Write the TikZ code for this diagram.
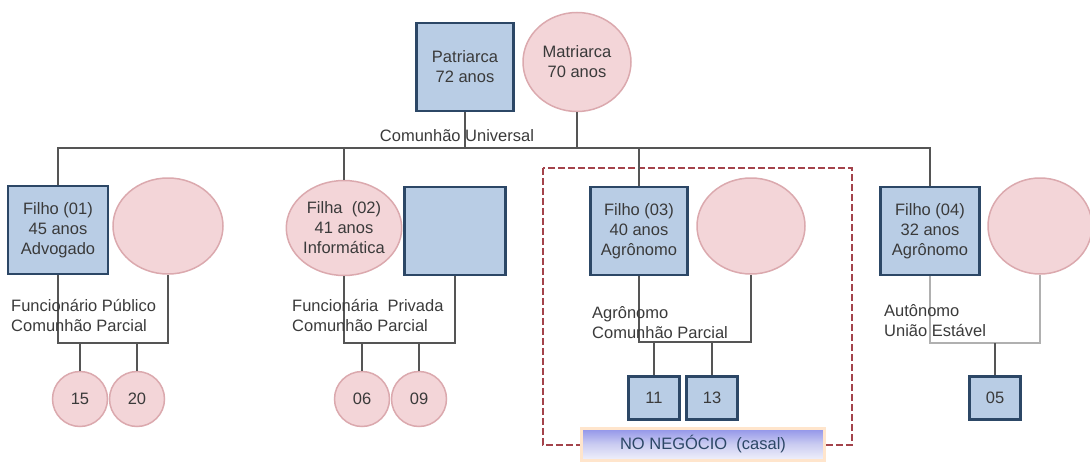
\documentclass[tikz,border=0pt]{standalone}
\usepackage{fontspec}
\setmainfont{Liberation Sans}
\usepackage{tikz}
\usetikzlibrary{shapes.geometric}
\definecolor{azul}{HTML}{B9CDE5}
\definecolor{azulborda}{HTML}{2C4766}
\definecolor{rosa}{HTML}{F3D5D8}
\definecolor{rosaborda}{HTML}{DBA9AE}
\definecolor{linha}{HTML}{555555}
\definecolor{linhaclara}{HTML}{B0B0B0}
\definecolor{texto}{HTML}{3A3A3A}
\definecolor{tracejado}{HTML}{A3434B}
\definecolor{faixa}{HTML}{9FA2E6}
\tikzset{
  homem/.style={draw=azulborda, fill=azul, line width=2.5pt, minimum width=97pt, minimum height=88pt, inner sep=0pt, align=center, text=texto},
  mulher/.style={ellipse, draw=rosaborda, fill=rosa, line width=1.5pt, minimum width=108pt, minimum height=96pt, inner sep=0pt, align=center, text=texto},
  netoh/.style={draw=azulborda, fill=azul, line width=2.5pt, minimum width=51pt, minimum height=43pt, inner sep=0pt, text=texto},
  netom/.style={circle, draw=rosaborda, fill=rosa, line width=1.5pt, minimum size=55pt, inner sep=0pt, text=texto},
  rotulo/.style={anchor=west, align=left, text=texto, inner sep=0pt},
  liga/.style={draw=linha, line width=1.5pt},
}
\begin{document}
\begin{tikzpicture}[x=1pt,y=-1pt,font=\fontsize{16.5}{20}\selectfont]
\useasboundingbox (0,0) rectangle (1090,463);

\draw[tracejado, line width=2.5pt, dash pattern=on 7pt off 3pt] (543,168) rectangle (852,445);

\node[homem] (pat) at (465,67) {Patriarca\\72 anos};
\node[mulher, minimum height=99pt] (mat) at (577,62) {Matriarca\\70 anos};
\node[text=texto] (casamento) at (457,136) {Comunhão Universal};

\node[homem, minimum width=100pt] (f1) at (58,230) {Filho (01)\\45 anos\\Advogado};
\node[mulher, minimum width=110pt] (f1e) at (168,226) {};
\node[mulher, minimum width=106pt, minimum height=95pt] (f2) at (344,228) {Filha \ (02)\\41 anos\\Informática};
\node[homem, minimum width=101pt] (f2e) at (455,231) {};
\node[homem] (f3) at (639,231) {Filho (03)\\40 anos\\Agrônomo};
\node[mulher] (f3e) at (751,226) {};
\node[homem, minimum width=99pt] (f4) at (930,231) {Filho (04)\\32 anos\\Agrônomo};
\node[mulher, minimum width=104pt] (f4e) at (1040,226) {};

\coordinate (u0) at (58,148);
\coordinate (u1) at (930,148);
\draw[liga] (pat.south) -- (pat.south |- u0);
\draw[liga] (mat.south) -- (mat.south |- u0);
\draw[liga] (f1.north) -- (u0) -- (u1) -- (f4.north);
\draw[liga] (f2.north) -- (f2.north |- u0);
\draw[liga] (f3.north) -- (f3.north |- u0);

\coordinate (c1) at (0,343);
\coordinate (c3) at (0,342);
\draw[liga] (f1.south) -- (f1.south |- c1) -- (f1e.south |- c1) -- (f1e.south);
\draw[liga] (f2.south) -- (f2.south |- c1) -- (f2e.south |- c1) -- (f2e.south);
\draw[liga] (f3.south) -- (f3.south |- c3) -- (f3e.south |- c3) -- (f3e.south);
\draw[liga, draw=linhaclara] (f4.south) -- (f4.south |- c1) -- (f4e.south |- c1) -- (f4e.south);

\node[netom] (n15) at (80,399) {15};
\node[netom] (n20) at (137,399) {20};
\node[netom] (n06) at (362,399) {06};
\node[netom] (n09) at (419,399) {09};
\node[netoh] (n11) at (654,398) {11};
\node[netoh] (n13) at (712,398) {13};
\node[netoh] (n05) at (995,398) {05};

\draw[liga] (n15.north) -- (n15.north |- c1);
\draw[liga] (n20.north) -- (n20.north |- c1);
\draw[liga] (n06.north) -- (n06.north |- c1);
\draw[liga] (n09.north) -- (n09.north |- c1);
\draw[liga] (n11.north) -- (n11.north |- c3);
\draw[liga] (n13.north) -- (n13.north |- c3);
\draw[liga] (n05.north) -- (n05.north |- c1);

\node[rotulo] (r1) at (11,316) {Funcionário Público\\Comunhão Parcial};
\node[rotulo] (r2) at (292,316) {Funcionária \ Privada\\Comunhão Parcial};
\node[rotulo] (r3) at (592,323) {Agrônomo\\Comunhão Parcial};
\node[rotulo] (r4) at (884,321) {Autônomo\\União Estável};

\node[draw=orange!20, line width=3pt, top color=faixa!90!blue, bottom color=faixa!15!white, middle color=faixa!55!white, minimum width=243pt, minimum height=32pt, inner sep=0pt, text=azulborda] (negocio) at (703,444) {NO NEGÓCIO \ (casal)};
\end{tikzpicture}
\end{document}
